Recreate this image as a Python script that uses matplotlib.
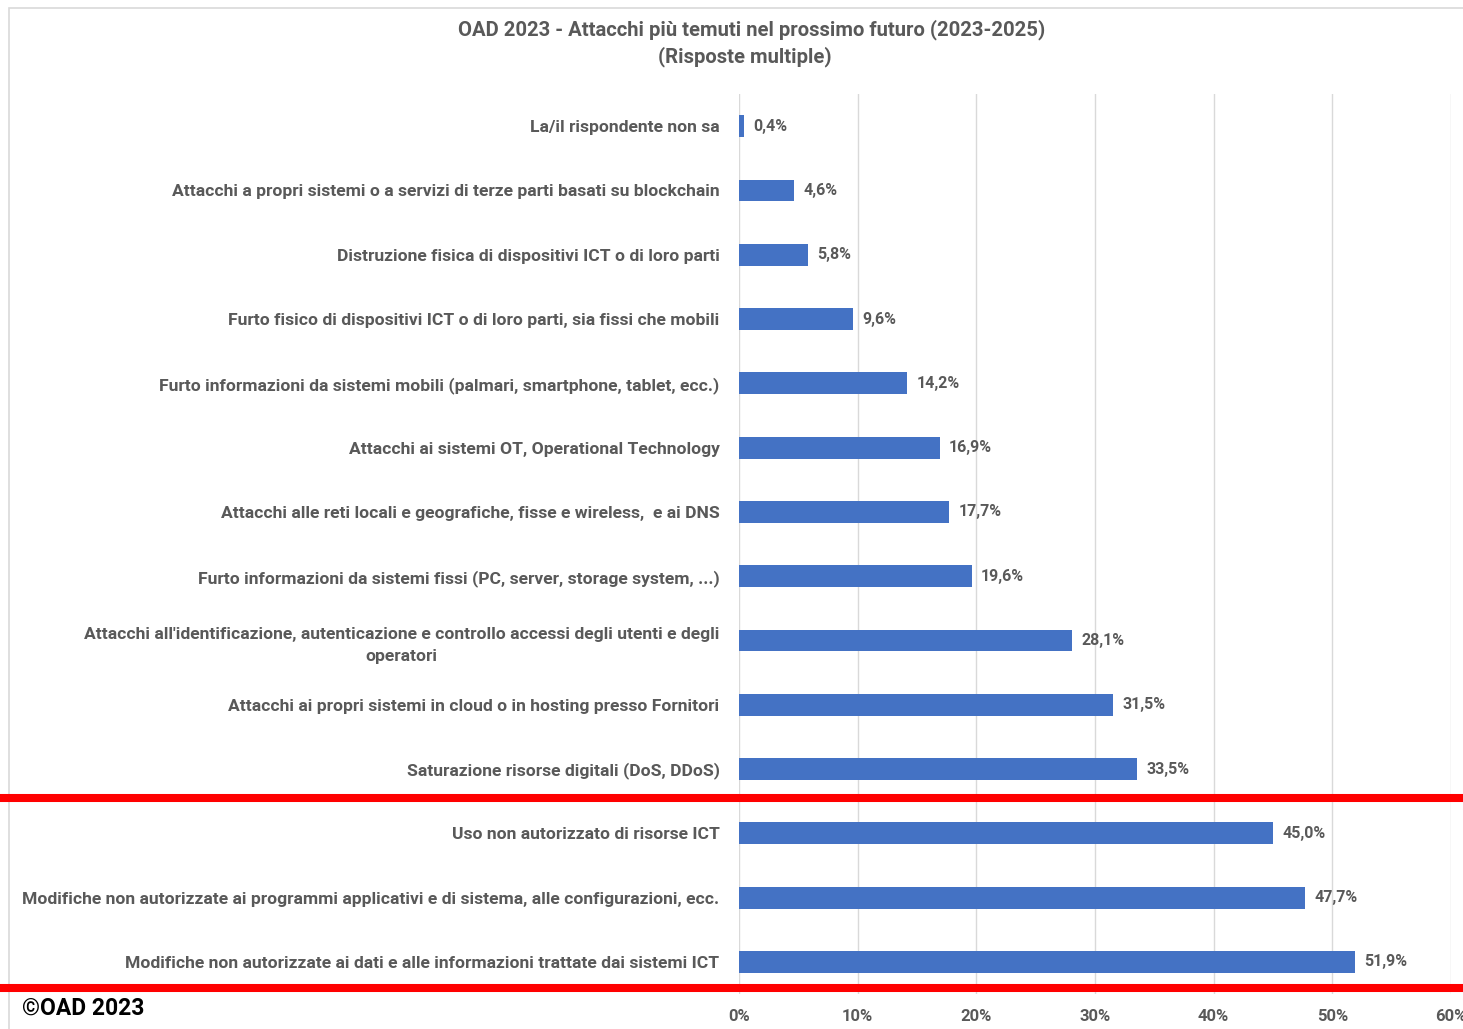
import matplotlib
matplotlib.use("Agg")
import matplotlib.pyplot as plt
from matplotlib.lines import Line2D
from matplotlib.patches import Rectangle
from matplotlib.ticker import FuncFormatter

plt.rcParams["font.family"] = ["Roboto", "DejaVu Sans"]

# voci dal basso verso l'alto
categorie = [
    "Modifiche non autorizzate ai dati e alle informazioni trattate dai sistemi ICT",
    "Modifiche non autorizzate ai programmi applicativi e di sistema, alle configurazioni, ecc.",
    "Uso non autorizzato di risorse ICT",
    "Saturazione risorse digitali (DoS, DDoS)",
    "Attacchi ai propri sistemi in cloud o in hosting presso Fornitori",
    "Attacchi all'identificazione, autenticazione e controllo accessi degli utenti e degli\noperatori",
    "Furto informazioni da sistemi fissi (PC, server, storage system, ...)",
    "Attacchi alle reti locali e geografiche, fisse e wireless,  e ai DNS",
    "Attacchi ai sistemi OT, Operational Technology",
    "Furto informazioni da sistemi mobili (palmari, smartphone, tablet, ecc.)",
    "Furto fisico di dispositivi ICT o di loro parti, sia fissi che mobili",
    "Distruzione fisica di dispositivi ICT o di loro parti",
    "Attacchi a propri sistemi o a servizi di terze parti basati su blockchain",
    "La/il rispondente non sa",
]
percentuali = [51.9, 47.7, 45.0, 33.5, 31.5, 28.1, 19.6, 17.7, 16.9, 14.2, 9.6, 5.8, 4.6, 0.4]
tick_valori = [0, 10, 20, 30, 40, 50, 60]

GRIGIO = "#595959"
BLU = "#4472C4"

fig = plt.figure(figsize=(14.63, 10.29), dpi=100)
ax = fig.add_axes([0.5051, 0.034, 0.4867, 0.8746])

y = list(range(len(categorie)))
ax.barh(y, percentuali, height=0.34, color=BLU, zorder=3)
for yi, v in zip(y, percentuali):
    ax.text(v + 0.8, yi, f"{v:.1f}%".replace(".", ","), va="center", ha="left",
            fontsize=11.5, fontweight="bold", color=GRIGIO)

ax.set_xlim(0, 60)
ax.set_ylim(-0.5, len(categorie) - 0.5)
ax.set_xticks(tick_valori)
ax.xaxis.set_major_formatter(FuncFormatter(lambda v, _: f"{v:.0f}%"))
ax.set_yticks(y)
ax.set_yticklabels(categorie, multialignment="center", linespacing=1.55)
ax.tick_params(axis="y", length=0, pad=14, labelsize=12.6, labelcolor=GRIGIO)
ax.tick_params(axis="x", length=0, pad=11, labelsize=12, labelcolor=GRIGIO)
for lab in ax.get_yticklabels() + ax.get_xticklabels():
    lab.set_fontweight("bold")
ax.grid(axis="x", color="#D9D9D9", linewidth=1, zorder=0)
for s in ax.spines.values():
    s.set_visible(False)

# titolo
fig.text(0.514, 0.971, "OAD 2023 - Attacchi più temuti nel prossimo futuro (2023-2025)",
         ha="center", va="center", fontsize=14.6, fontweight="bold", color=GRIGIO)
fig.text(0.509, 0.945, "(Risposte multiple)",
         ha="center", va="center", fontsize=14.6, fontweight="bold", color=GRIGIO)

# cornice grigia
fig.add_artist(Rectangle((9 / 1463, -0.01), 1.1, 1 - 8 / 1029 + 0.01,
                         transform=fig.transFigure, fill=False,
                         edgecolor="#D9D9D9", linewidth=1.2, zorder=0))

# linee rosse di separazione
for yp in (798, 988):
    yf = 1 - yp / 1029
    fig.add_artist(Line2D([0, 1], [yf, yf], transform=fig.transFigure,
                          color="#FF0000", linewidth=5.8, zorder=10))

fig.text(22 / 1463, 1 - 1008 / 1029, "©OAD 2023", ha="left", va="center",
         fontsize=16.5, fontweight="bold", color="black")

fig.savefig("out.png", dpi=100, facecolor="white")
